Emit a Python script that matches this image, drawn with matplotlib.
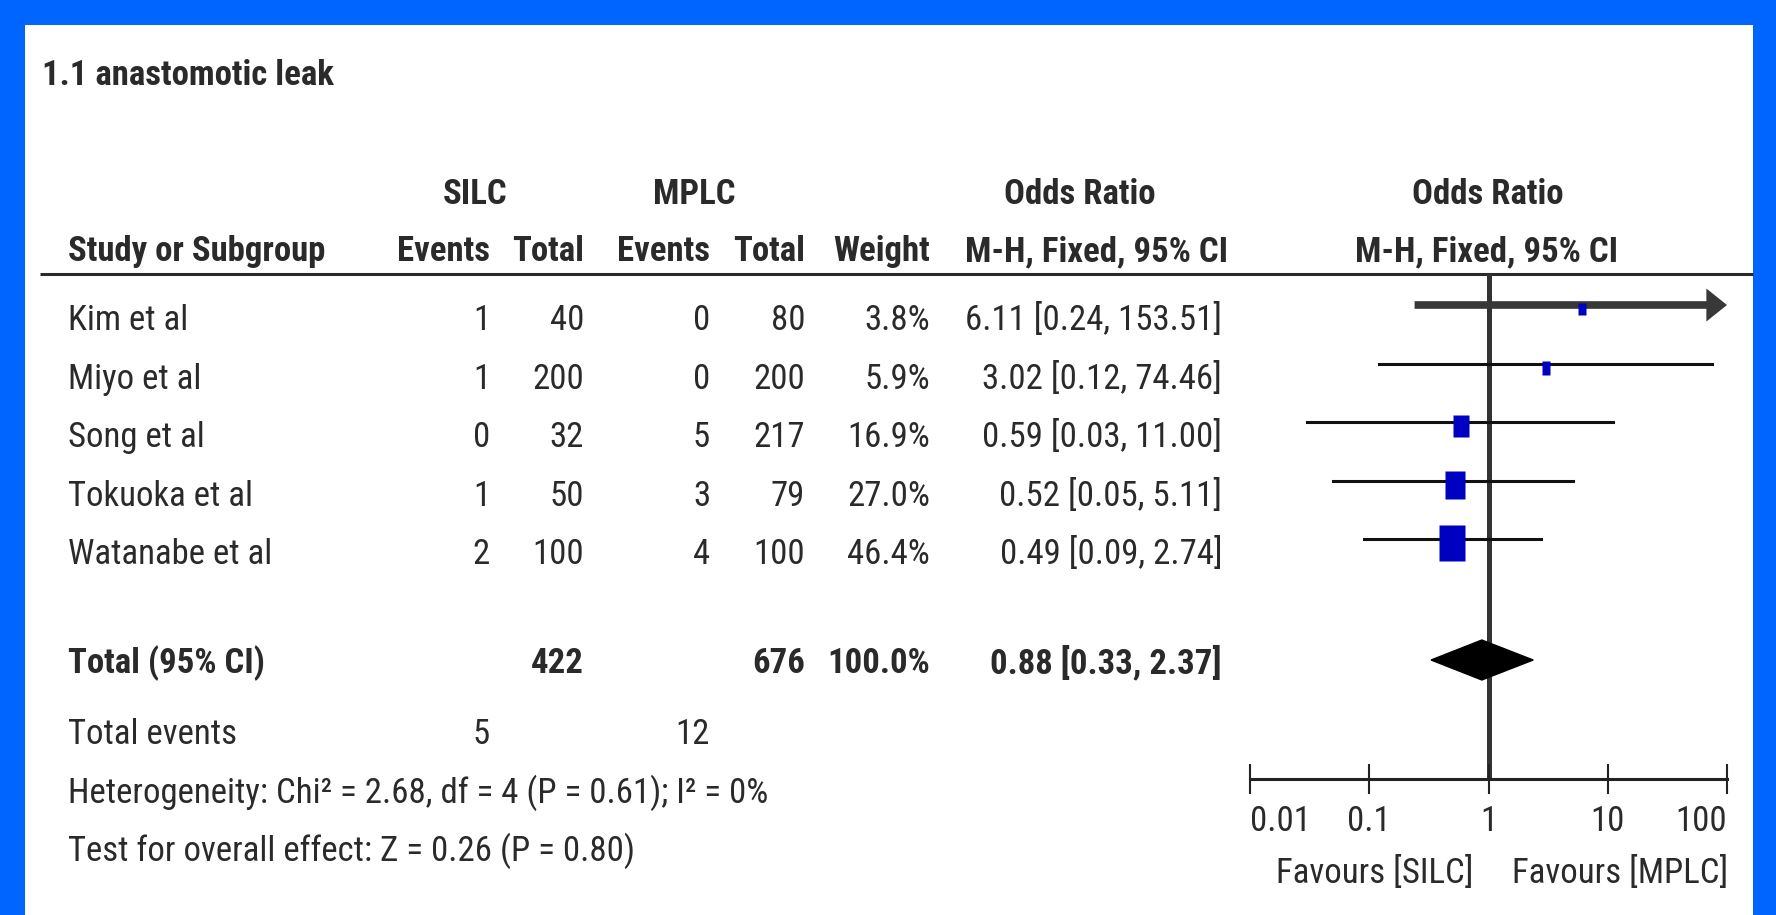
import numpy as np
import matplotlib
matplotlib.use('Agg')
import matplotlib.pyplot as plt
from matplotlib.path import Path
from matplotlib.patches import Rectangle

# Study level data
studies     = ['Kim et al', 'Miyo et al', 'Song et al', 'Tokuoka et al', 'Watanabe et al']
silc_events = [1, 1, 0, 1, 2]
silc_total  = [40, 200, 32, 50, 100]
mplc_events = [0, 0, 5, 3, 4]
mplc_total  = [80, 200, 217, 79, 100]
weights     = [3.8, 5.9, 16.9, 27.0, 46.4]
odds_ratio  = [6.11, 3.02, 0.59, 0.52, 0.49]
ci_lower    = [0.24, 0.12, 0.03, 0.05, 0.09]
ci_upper    = [153.51, 74.46, 11.00, 5.11, 2.74]

# Pooled result
pooled_or, pooled_lo, pooled_hi = 0.88, 0.33, 2.37
total_silc, total_mplc = 422, 676
events_silc, events_mplc = 5, 12
heterogeneity  = 'Heterogeneity: Chi² = 2.68, df = 4 (P = 0.61); I² = 0%'
overall_effect = 'Test for overall effect: Z = 0.26 (P = 0.80)'

# Axis ticks
ticks       = [0.01, 0.1, 1, 10, 100]
tick_labels = ['0.01', '0.1', '1', '10', '100']

plt.rcParams['font.family'] = ['Roboto Condensed', 'DejaVu Sans']

W, H = 1776, 915
ink = '#2a2a2a'
fs = 25

fig = plt.figure(figsize = (W / 100, H / 100), dpi = 100, facecolor = '#0064ff')

# Pixel-space axes for the table part
ax = fig.add_axes([0, 0, 1, 1])
ax.set_xlim(0, W)
ax.set_ylim(H, 0)
ax.axis('off')
ax.add_patch(Rectangle((25, 25), 1728, 900, facecolor = 'white', edgecolor = 'none'))

def txt(x, y, s, ha = 'left', bold = False):
    # y is the visual middle of the capitals
    ax.text(x, y + 13, s, ha = ha, va = 'baseline', fontsize = fs, color = ink,
            fontweight = 'bold' if bold else 'normal')

# Title and headers
txt(42, 72, '1.1 anastomotic leak', bold = True)
txt(475, 191, 'SILC', 'center', True)
txt(694, 191, 'MPLC', 'center', True)
txt(1080, 191, 'Odds Ratio', 'center', True)
txt(1488, 191, 'Odds Ratio', 'center', True)

hy = 248
txt(68, hy, 'Study or Subgroup', bold = True)
cols = [490, 584, 710, 805, 930]
for x, s in zip(cols, ['Events', 'Total', 'Events', 'Total', 'Weight']):
    txt(x, hy, s, 'right', True)
txt(1097, hy, 'M-H, Fixed, 95% CI', 'center', True)
txt(1487, hy, 'M-H, Fixed, 95% CI', 'center', True)
ax.plot([40, 1753], [274, 274], color = ink, lw = 2.2, solid_capstyle = 'butt')

# Study rows
line_y = 305 + 58.6 * np.arange(len(studies))
text_y = line_y + 12
for i, name in enumerate(studies):
    y = text_y[i]
    txt(68, y, name)
    vals = [silc_events[i], silc_total[i], mplc_events[i], mplc_total[i]]
    for x, v in zip(cols[:4], vals):
        txt(x, y, str(v), 'right')
    txt(cols[4], y, f'{weights[i]:.1f}%', 'right')
    txt(1222, y, f'{odds_ratio[i]:.2f} [{ci_lower[i]:.2f}, {ci_upper[i]:.2f}]', 'right')

# Totals
ty = 660
txt(68, ty, 'Total (95% CI)', bold = True)
txt(cols[1], ty, str(total_silc), 'right', True)
txt(cols[3], ty, str(total_mplc), 'right', True)
txt(cols[4], ty, f'{sum(weights):.1f}%', 'right', True)
txt(1222, ty, f'{pooled_or:.2f} [{pooled_lo:.2f}, {pooled_hi:.2f}]', 'right', True)
txt(68, 731, 'Total events')
txt(cols[0], 731, str(events_silc), 'right')
txt(cols[2], 731, str(events_mplc), 'right')
txt(68, 790, heterogeneity)
txt(68, 848, overall_effect)

# Forest plot, log odds ratio axis
fx = fig.add_axes([1250 / W, 1 - 779 / H, 477 / W, 505 / H])
fx.set_xscale('log')
fx.set_xlim(0.01, 100)
fx.set_ylim(779, 274)
fx.patch.set_alpha(0)
for side in ['top', 'left', 'right']:
    fx.spines[side].set_visible(False)
fx.spines['bottom'].set_linewidth(2.2)
fx.spines['bottom'].set_color('#222222')
fx.set_yticks([])
fx.set_xticks(ticks)
fx.set_xticklabels(tick_labels)
fx.minorticks_off()
fx.tick_params(axis = 'x', direction = 'inout', length = 22, width = 1.5, color = '#222222',
               labelsize = fs, labelcolor = ink, pad = 8)
# End labels sit inside the axis span
labels = fx.get_xticklabels()
labels[0].set_horizontalalignment('left')
labels[-1].set_horizontalalignment('right')

fx.axvline(1, color = '#333333', lw = 3.6, zorder = 1)

# Rectangle marker, taller than wide
box = Path([(-0.34, -0.5), (0.34, -0.5), (0.34, 0.5), (-0.34, 0.5), (-0.34, -0.5)],
           [Path.MOVETO, Path.LINETO, Path.LINETO, Path.LINETO, Path.CLOSEPOLY])

for i in range(len(studies)):
    y = line_y[i]
    if ci_upper[i] > 100:
        fx.annotate('', xy = (100, y), xytext = (ci_lower[i], y), annotation_clip = False,
                    arrowprops = dict(arrowstyle = '-|>,head_length=0.35,head_width=0.28',
                                      lw = 5.5, color = '#383838', mutation_scale = 22,
                                      joinstyle = 'miter', capstyle = 'butt',
                                      shrinkA = 0, shrinkB = 0))
    else:
        fx.plot([ci_lower[i], ci_upper[i]], [y, y], color = '#111111', lw = 2.2, zorder = 2)
    size = max(5.4 * np.sqrt(weights[i]), 12) * 0.72
    fx.plot([odds_ratio[i]], [y + 4], marker = box, ms = size, color = '#0000c0',
            mec = 'none', zorder = 3)

# Pooled diamond
fx.fill([pooled_lo, pooled_or, pooled_hi, pooled_or], [ty, ty - 20, ty, ty + 20],
        color = 'black', zorder = 3)

# Favours labels under the axis
txt(1375, 870, 'Favours [SILC]', 'center')
txt(1620, 870, 'Favours [MPLC]', 'center')

plt.savefig('out.png', dpi = 100, facecolor = fig.get_facecolor())
